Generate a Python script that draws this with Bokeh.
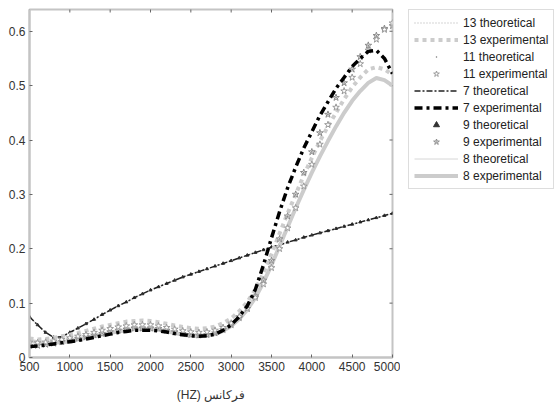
from bokeh.plotting import figure
from bokeh.models import Range1d, FixedTicker, Legend, LegendItem
from bokeh.layouts import row
from bokeh.embed import file_html
from bokeh.resources import INLINE

freq = list(range(500, 5001, 100))

# theoretical curves (all five coincide in the picture)
theoretical = [0.075, 0.060, 0.046, 0.037, 0.038, 0.046, 0.054, 0.062, 0.070, 0.079,
               0.087, 0.095, 0.102, 0.110, 0.117, 0.124, 0.130, 0.136, 0.142, 0.148,
               0.153, 0.158, 0.163, 0.168, 0.173, 0.178, 0.183, 0.188, 0.193, 0.198,
               0.203, 0.207, 0.212, 0.216, 0.221, 0.225, 0.229, 0.233, 0.237, 0.241,
               0.245, 0.249, 0.253, 0.257, 0.261, 0.265]

exp7 = [0.020, 0.021, 0.023, 0.025, 0.027, 0.029, 0.031, 0.034, 0.037, 0.040,
        0.043, 0.046, 0.048, 0.050, 0.050, 0.050, 0.049, 0.047, 0.044, 0.042,
        0.040, 0.039, 0.040, 0.043, 0.050, 0.060, 0.075, 0.095, 0.125, 0.170,
        0.220, 0.268, 0.312, 0.350, 0.385, 0.415, 0.445, 0.470, 0.495, 0.515,
        0.535, 0.550, 0.563, 0.565, 0.550, 0.522]

exp11 = [0.028, 0.027, 0.028, 0.030, 0.033, 0.036, 0.039, 0.042, 0.046, 0.050,
         0.053, 0.056, 0.058, 0.060, 0.060, 0.060, 0.058, 0.055, 0.052, 0.049,
         0.047, 0.046, 0.047, 0.050, 0.055, 0.063, 0.075, 0.090, 0.110, 0.135,
         0.165, 0.200, 0.238, 0.275, 0.315, 0.355, 0.392, 0.428, 0.460, 0.490,
         0.515, 0.540, 0.565, 0.585, 0.603, 0.615]

exp9 = [0.022, 0.022, 0.024, 0.026, 0.029, 0.032, 0.035, 0.038, 0.041, 0.044,
        0.047, 0.050, 0.052, 0.054, 0.054, 0.054, 0.053, 0.050, 0.047, 0.044,
        0.042, 0.041, 0.042, 0.045, 0.051, 0.060, 0.073, 0.090, 0.113, 0.142,
        0.178, 0.218, 0.260, 0.300, 0.340, 0.378, 0.413, 0.447, 0.478, 0.505,
        0.530, 0.553, 0.574, 0.592, 0.605, 0.610]

exp13 = [0.035, 0.033, 0.034, 0.036, 0.039, 0.042, 0.045, 0.049, 0.053, 0.057,
         0.060, 0.063, 0.066, 0.067, 0.068, 0.067, 0.065, 0.062, 0.059, 0.056,
         0.054, 0.053, 0.054, 0.057, 0.063, 0.072, 0.085, 0.102, 0.125, 0.155,
         0.190, 0.228, 0.265, 0.300, 0.335, 0.367, 0.398, 0.425, 0.450, 0.475,
         0.497, 0.515, 0.530, 0.534, 0.530, 0.520]

exp8 = [0.031, 0.028, 0.027, 0.027, 0.028, 0.030, 0.033, 0.036, 0.039, 0.042,
        0.045, 0.048, 0.050, 0.052, 0.052, 0.052, 0.051, 0.048, 0.045, 0.042,
        0.040, 0.039, 0.040, 0.043, 0.049, 0.058, 0.071, 0.088, 0.110, 0.138,
        0.170, 0.205, 0.240, 0.275, 0.308, 0.340, 0.370, 0.398, 0.425, 0.450,
        0.472, 0.490, 0.505, 0.514, 0.510, 0.500]

x_ticks = [500, 1000, 1500, 2000, 2500, 3000, 3500, 4000, 4500, 5000]
y_ticks = [0, 0.1, 0.2, 0.3, 0.4, 0.5, 0.6]
y_tick_labels = ["0", "0.1", "0.2", "0.3", "0.4", "0.5", "0.6"]
x_label = "(HZ) فركانس"
labels = ["13 theoretical", "13 experimental", "11 theoretical", "11 experimental",
          "7 theoretical", "7 experimental", "9 theoretical", "9 experimental",
          "8 theoretical", "8 experimental"]

FONT = "Liberation Sans"
AXIS_COL = "#c4c4c4"
X0, X1, Y0, Y1 = 500, 5000, 0, 0.64

p = figure(width=400, height=409,
           x_range=Range1d(X0, X1), y_range=Range1d(Y0, Y1),
           output_backend="svg", toolbar_location=None,
           min_border_left=29, min_border_top=9, min_border_bottom=52,
           min_border_right=8, background_fill_color="white")
p.grid.visible = False
p.outline_line_color = AXIS_COL
p.outline_line_width = 2

for ax in (p.xaxis[0], p.yaxis[0]):
    ax.axis_line_color = AXIS_COL
    ax.axis_line_width = 2
    ax.major_tick_in = 3
    ax.major_tick_out = 0
    ax.major_tick_line_color = "#666666"
    ax.minor_tick_line_color = None
    ax.major_label_text_font = FONT
    ax.major_label_text_font_size = "12px"
    ax.major_label_text_color = "#333333"
    ax.major_label_standoff = 4

p.xaxis.ticker = FixedTicker(ticks=x_ticks)
p.yaxis.ticker = FixedTicker(ticks=y_ticks)
p.yaxis.major_label_overrides = dict(zip(y_ticks, y_tick_labels))
p.xaxis.axis_label = x_label
p.xaxis.axis_label_text_font = FONT
p.xaxis.axis_label_text_font_size = "12px"
p.xaxis.axis_label_text_font_style = "normal"
p.xaxis.axis_label_text_color = "#333333"
p.xaxis.axis_label_standoff = 14

# tick marks on the top and right edges of the box
p.scatter(x_ticks, [Y1] * len(x_ticks), marker="dash", angle=1.5708, size=6,
          line_color="#666666", line_width=1)
p.scatter([X1] * len(y_ticks), y_ticks, marker="dash", size=6,
          line_color="#666666", line_width=1)


def draw(fig, x, t, e13, e11, e7, e9, e8):
    r = {}
    r["13t"] = fig.line(x, t, line_color="#aaaaaa", line_width=1, line_dash="1 2")
    r["8t"] = fig.line(x, t, line_color="#d6d6d6", line_width=1)
    r["11t"] = fig.scatter(x, t, marker="dot", size=6, line_color="#777777")
    r["9t"] = fig.scatter(x, t, marker="triangle", size=3, line_color="#333333",
                          fill_color="#333333")
    r["7t"] = fig.line(x, t, line_color="#222222", line_width=1.5,
                       line_dash="6 2 2 2")
    r["8e"] = fig.line(x, e8, line_color="#cccccc", line_width=4)
    r["13e"] = fig.line(x, e13, line_color="#cccccc", line_width=4, line_dash="4 4")
    r["9e"] = fig.scatter(x, e9, marker="star_dot", size=7, line_color="#8a8a8a",
                          fill_color="white", line_width=1)
    r["11e"] = fig.scatter(x, e11, marker="star", size=7, line_color="#9a9a9a",
                           fill_color="white", line_width=1)
    r["7e"] = fig.line(x, e7, line_color="black", line_width=3.5,
                       line_dash="8 4 3 4")
    return r


draw(p, freq, theoretical, exp13, exp11, exp7, exp9, exp8)

# legend lives in a side figure: same series, same styles, but its ranges
# are far from the data so only the legend itself is visible there
lg = figure(width=157, height=409, x_range=Range1d(0, 1), y_range=Range1d(0, 1),
            output_backend="svg", toolbar_location=None, min_border=0,
            min_border_left=8)
lg.axis.visible = False
lg.grid.visible = False
lg.outline_line_color = None
proxy = draw(lg, freq, theoretical, exp13, exp11, exp7, exp9, exp8)
order = ["13t", "13e", "11t", "11e", "7t", "7e", "9t", "9e", "8t", "8e"]
items = [LegendItem(label=lab, renderers=[proxy[k]]) for lab, k in zip(labels, order)]
legend = Legend(items=items, location="top_left", margin=0, padding=5,
                spacing=2, glyph_width=44, glyph_height=15, label_height=15,
                label_standoff=5, label_text_font=FONT, label_text_font_size="12px",
                label_text_color="#222222", border_line_color="#bbbbbb",
                border_line_width=1, background_fill_color="white",
                background_fill_alpha=1)
lg.add_layout(legend)

layout = row(p, lg)
open("out.html", "w").write(file_html(layout, INLINE))
